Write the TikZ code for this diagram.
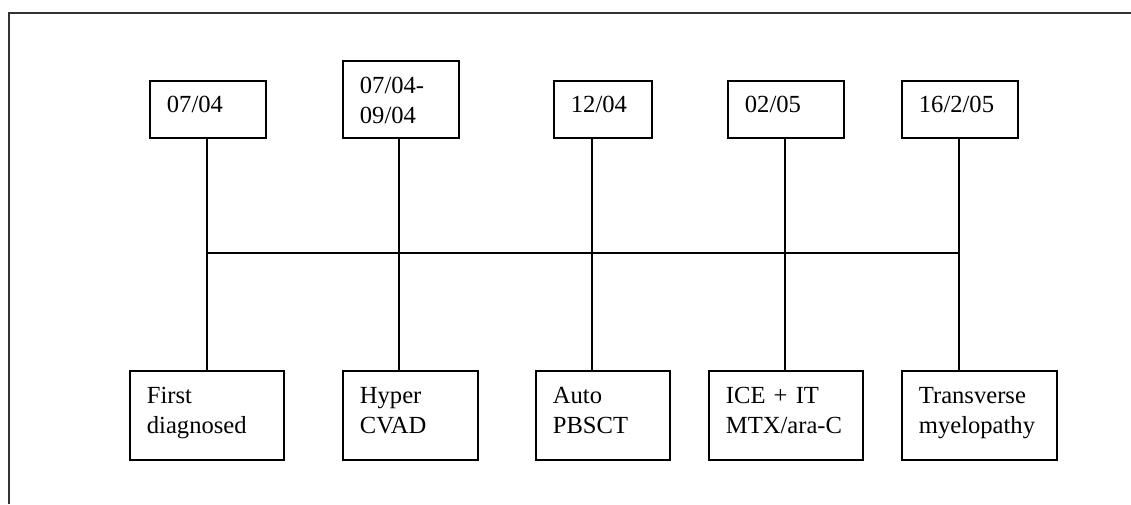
\documentclass[tikz,border=0pt]{standalone}
\usepackage{fontspec}
\setmainfont{Liberation Serif}
\usepackage{tikz}
\usetikzlibrary{positioning}

\begin{document}
\begin{tikzpicture}[x=0.5pt,y=-0.5pt,semithick,
	datebox/.style={draw,line width=0.9pt,anchor=north west,align=left,inner xsep=8.5pt,inner ysep=0pt,
		font=\fontsize{12.3}{15}\selectfont},
	eventbox/.style={datebox,text height=16.35pt,text depth=28.15pt},
	link/.style={line width=0.8pt}]
\useasboundingbox (0,0) rectangle (1131,504);
\draw[line width=0.8pt,black!80] (9,504) -- (9,13) -- (1131,13);
% dates
\node[datebox,text width=41pt,text height=16pt,text depth=12.5pt] (d1) at (149,80) {07/04};
\node[datebox,text width=41pt,text height=16.5pt,text depth=22pt] (d2) at (342,60) {07/04-\\09/04};
\node[datebox,text width=32pt,text height=16pt,text depth=12.5pt] (d3) at (553,80) {12/04};
\node[datebox,text width=41pt,text height=16pt,text depth=12.5pt] (d4) at (727,80) {02/05};
\node[datebox,text width=41pt,text height=16pt,text depth=12.5pt] (d5) at (901,80) {16/2/05};
% events
\node[eventbox,text width=60.2pt] (e1) at (129,370) {First\\diagnosed};
\node[eventbox,text width=50.5pt] (e2) at (342,370) {Hyper\\CVAD};
\node[eventbox,text width=50.2pt] (e3) at (535,370) {Auto\\PBSCT};
\node[eventbox,text width=60pt] (e4) at (708,370) {ICE + IT\\MTX/ara-C};
\node[eventbox,text width=60.5pt] (e5) at (901,370) {Transverse\\myelopathy};
% time line
\coordinate (j1) at (207,253); \coordinate (j2) at (399,253); \coordinate (j3) at (592,253);
\coordinate (j4) at (785,253); \coordinate (j5) at (959,253);
\draw[link] (j1) -- (j5);
\foreach \i in {1,...,5}
	\draw[link] (j\i |- d\i.south) -- (j\i |- e\i.north);
\end{tikzpicture}
\end{document}
